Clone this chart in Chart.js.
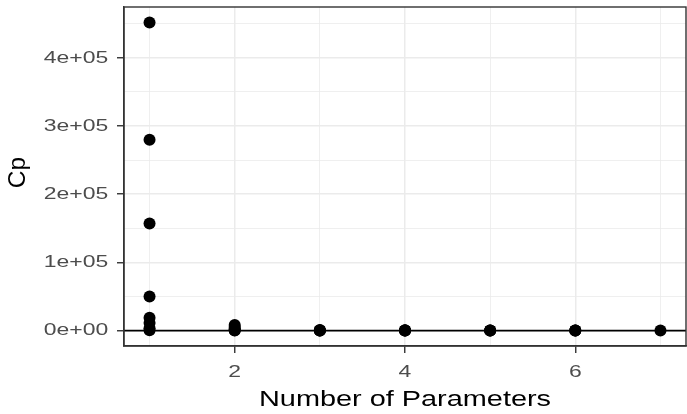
<!DOCTYPE html>
<html>
<head>
<meta charset="utf-8">
<script src="https://cdn.jsdelivr.net/npm/chart.js@4/dist/chart.umd.min.js"></script>
<style>
html,body{margin:0;padding:0;overflow:hidden;background:#fff;}
canvas{display:block;}
</style>
</head>
<body>
<canvas id="c" width="692" height="414"></canvas>
<script>
// Number of parameters for each model and its Cp value
const numParams = [1,1,1,1,1,1,1,1, 2,2,2,2,2,2, 3,3,3,3, 4,4,4,4, 5,5,5, 6,6,6, 7];
const cpValues  = [452000,280000,157000,50000,19000,11000,3500,600,
                   8300,5200,2800,1200,400,100,
                   900,300,80,20, 500,150,40,10, 300,60,8, 200,30,7, 8];
const yTicks = [0,100000,200000,300000,400000];
const yMinor = [50000,150000,250000,350000,450000];
const xTicks = [2,4,6];
const xMinor = [1,3,5,7];

const points = numParams.map((x,i)=>({x:x,y:cpValues[i]}));

function sci(v){
  if(v===0) return '0e+00';
  const e = Math.floor(Math.log10(Math.abs(v)));
  const m = v/Math.pow(10,e);
  return (Math.round(m*100)/100)+'e'+(e>=0?'+':'-')+String(Math.abs(e)).padStart(2,'0');
}

const FONT = 'Liberation Sans';
const TICK_SIZE = 17, TITLE_SIZE = 22.3, YTITLE_SIZE = 24.5;

// Horizontal text in the reference is set wider than Liberation Sans: stretch glyphs around their anchor
const widenPlugin = {
  id:'widen',
  beforeDraw(chart){
    const ctx = chart.ctx;
    if (ctx.__widened) return;
    const orig = ctx.fillText.bind(ctx);
    ctx.fillText = function(text, x, y, maxW){
      const t = ctx.getTransform();
      if (Math.abs(t.b) > 0.01) {          // rotated (y-axis title)
        orig(text, x + 4, y);
        return;
      }
      const m = /([\d.]+)px/.exec(ctx.font);
      const size = m ? parseFloat(m[1]) : 12;
      const sx = size > 20 ? 1.295 : 1.35;
      ctx.save();
      ctx.translate(x, y);
      ctx.scale(sx, 1);
      orig(text, 0, 0);
      ctx.restore();
    };
    ctx.__widened = true;
  }
};

const borderPlugin = {
  id:'panelBorder',
  afterDatasetsDraw(chart){
    const {ctx, chartArea:a} = chart;
    ctx.save();
    ctx.strokeStyle='#333333';
    ctx.lineWidth=1.4;
    ctx.strokeRect(a.left, a.top, a.right-a.left, a.bottom-a.top);
    ctx.restore();
  }
};

function setTicks(major, minor){
  return function(s){
    s.ticks = major.concat(minor).sort((a,b)=>a-b).map(v=>({value:v}));
  };
}
const isMajor = (arr)=> (c)=> c.tick && arr.includes(c.tick.value);

new Chart(document.getElementById('c'), {
  type:'scatter',
  data:{datasets:[
    {type:'line', data:[{x:0,y:0},{x:8,y:0}], borderColor:'#000', borderWidth:1.7, pointRadius:0, order:2},
    {data:points, backgroundColor:'#000', borderColor:'#000', pointRadius:6, pointHoverRadius:6, borderWidth:0, order:1}
  ]},
  options:{
    responsive:false, animation:false, devicePixelRatio:1,
    layout:{padding:{top:7,right:3,left:0,bottom:0}},
    plugins:{legend:{display:false}, tooltip:{enabled:false}},
    scales:{
      x:{type:'linear', min:0.7, max:7.3,
        afterBuildTicks:setTicks(xTicks,xMinor),
        afterFit(s){ s.height = 68; s.paddingLeft=0; s.paddingRight=0; },
        ticks:{autoSkip:false, maxRotation:0,
          color:'#4d4d4d', font:{family:FONT, size:TICK_SIZE}, padding:9,
          callback:(v)=> xTicks.includes(v) ? String(v) : ''},
        grid:{color:'#ebebeb', lineWidth:(c)=> isMajor(xTicks)(c) ? 1.5 : 0.8,
          tickColor:(c)=> isMajor(xTicks)(c) ? '#333333' : 'rgba(0,0,0,0)',
          tickLength:7, tickWidth:1.4},
        border:{display:true, color:'#333333', width:1.4},
        title:{display:true, text:'Number of Parameters', color:'#000',
          font:{family:FONT, size:TITLE_SIZE}, padding:{top:0,bottom:0.5}}
      },
      y:{type:'linear', min:-22600, max:474600,
        afterBuildTicks:setTicks(yTicks,yMinor),
        afterFit(s){ s.width = 124; s.paddingTop=0; s.paddingBottom=0; },
        ticks:{autoSkip:false,
          color:'#4d4d4d', font:{family:FONT, size:TICK_SIZE}, padding:8.7,
          callback:(v)=> yTicks.includes(v) ? sci(v) : ''},
        grid:{color:'#ebebeb', lineWidth:(c)=> isMajor(yTicks)(c) ? 1.5 : 0.8,
          tickColor:(c)=> isMajor(yTicks)(c) ? '#333333' : 'rgba(0,0,0,0)',
          tickLength:7, tickWidth:1.4},
        border:{display:true, color:'#333333', width:1.4},
        title:{display:true, text:'Cp', color:'#000',
          font:{family:FONT, size:YTITLE_SIZE}, padding:{top:4,bottom:0}}
      }
    }
  },
  plugins:[widenPlugin, borderPlugin]
});
</script>
</body>
</html>
